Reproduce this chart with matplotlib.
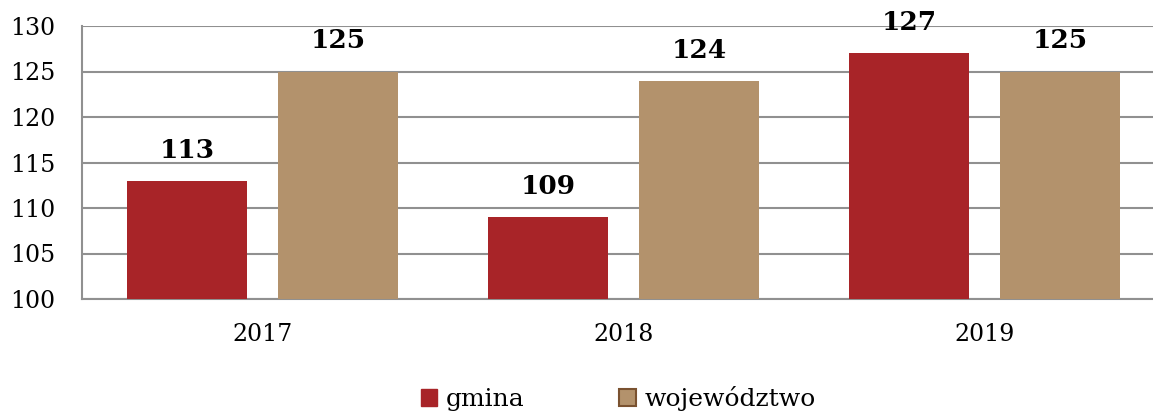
import matplotlib
matplotlib.use("Agg")
import matplotlib.pyplot as plt
from matplotlib.patches import Patch
import numpy as np

categories = ["2017", "2018", "2019"]
gmina = [113, 109, 127]
wojewodztwo = [125, 124, 125]
series_names = ["gmina", "województwo"]
yticks = [100, 105, 110, 115, 120, 125, 130]

c_gmina = "#A82428"
c_woj = "#B3926C"
c_woj_edge = "#7A5230"
grid_c = "#909090"

plt.rcParams['font.family'] = ['DejaVu Serif']

fig = plt.figure(figsize=(11.53, 4.12), dpi=100)
ax = fig.add_axes([82/1153, 1-299/412, 1083/1153, (299-26)/412])

x = np.arange(len(categories))
w = 0.33
off = 0.209
ax.bar(x - off, np.array(gmina) - 100, w, bottom=100, color=c_gmina, zorder=3)
ax.bar(x + off, np.array(wojewodztwo) - 100, w, bottom=100, color=c_woj, zorder=3)

for xi, v in zip(x - off, gmina):
    ax.annotate(str(v), (xi, v), xytext=(0, 13), textcoords="offset points",
                ha="center", va="bottom", fontsize=19, fontweight="bold", annotation_clip=False)
for xi, v in zip(x + off, wojewodztwo):
    ax.annotate(str(v), (xi, v), xytext=(0, 13), textcoords="offset points",
                ha="center", va="bottom", fontsize=19, fontweight="bold", annotation_clip=False)

ax.set_xlim(-0.5, 2.5)
ax.set_ylim(100, 130)
ax.set_yticks(yticks)
ax.set_yticklabels([str(t) for t in yticks], fontsize=17)
ax.set_xticks(x)
ax.set_xticklabels(categories, fontsize=17)
ax.tick_params(axis="both", length=0)
ax.tick_params(axis="x", pad=17)
ax.tick_params(axis="y", pad=19)
ax.yaxis.grid(True, color=grid_c, linewidth=1.5, zorder=0)
ax.set_axisbelow(True)
for s in ["top", "right"]:
    ax.spines[s].set_visible(False)
for s in ["left", "bottom"]:
    ax.spines[s].set_color(grid_c)
    ax.spines[s].set_linewidth(1.5)

handles = [Patch(facecolor=c_gmina, edgecolor=c_gmina),
           Patch(facecolor=c_woj, edgecolor=c_woj_edge, linewidth=1.5)]
fig.legend(handles, series_names, loc="center", bbox_to_anchor=(0.536, 0.032),
           ncol=2, frameon=False, fontsize=18, handlelength=0.65, handleheight=0.65,
           handletextpad=0.35, columnspacing=3.8)

fig.savefig("out.png", dpi=100)
